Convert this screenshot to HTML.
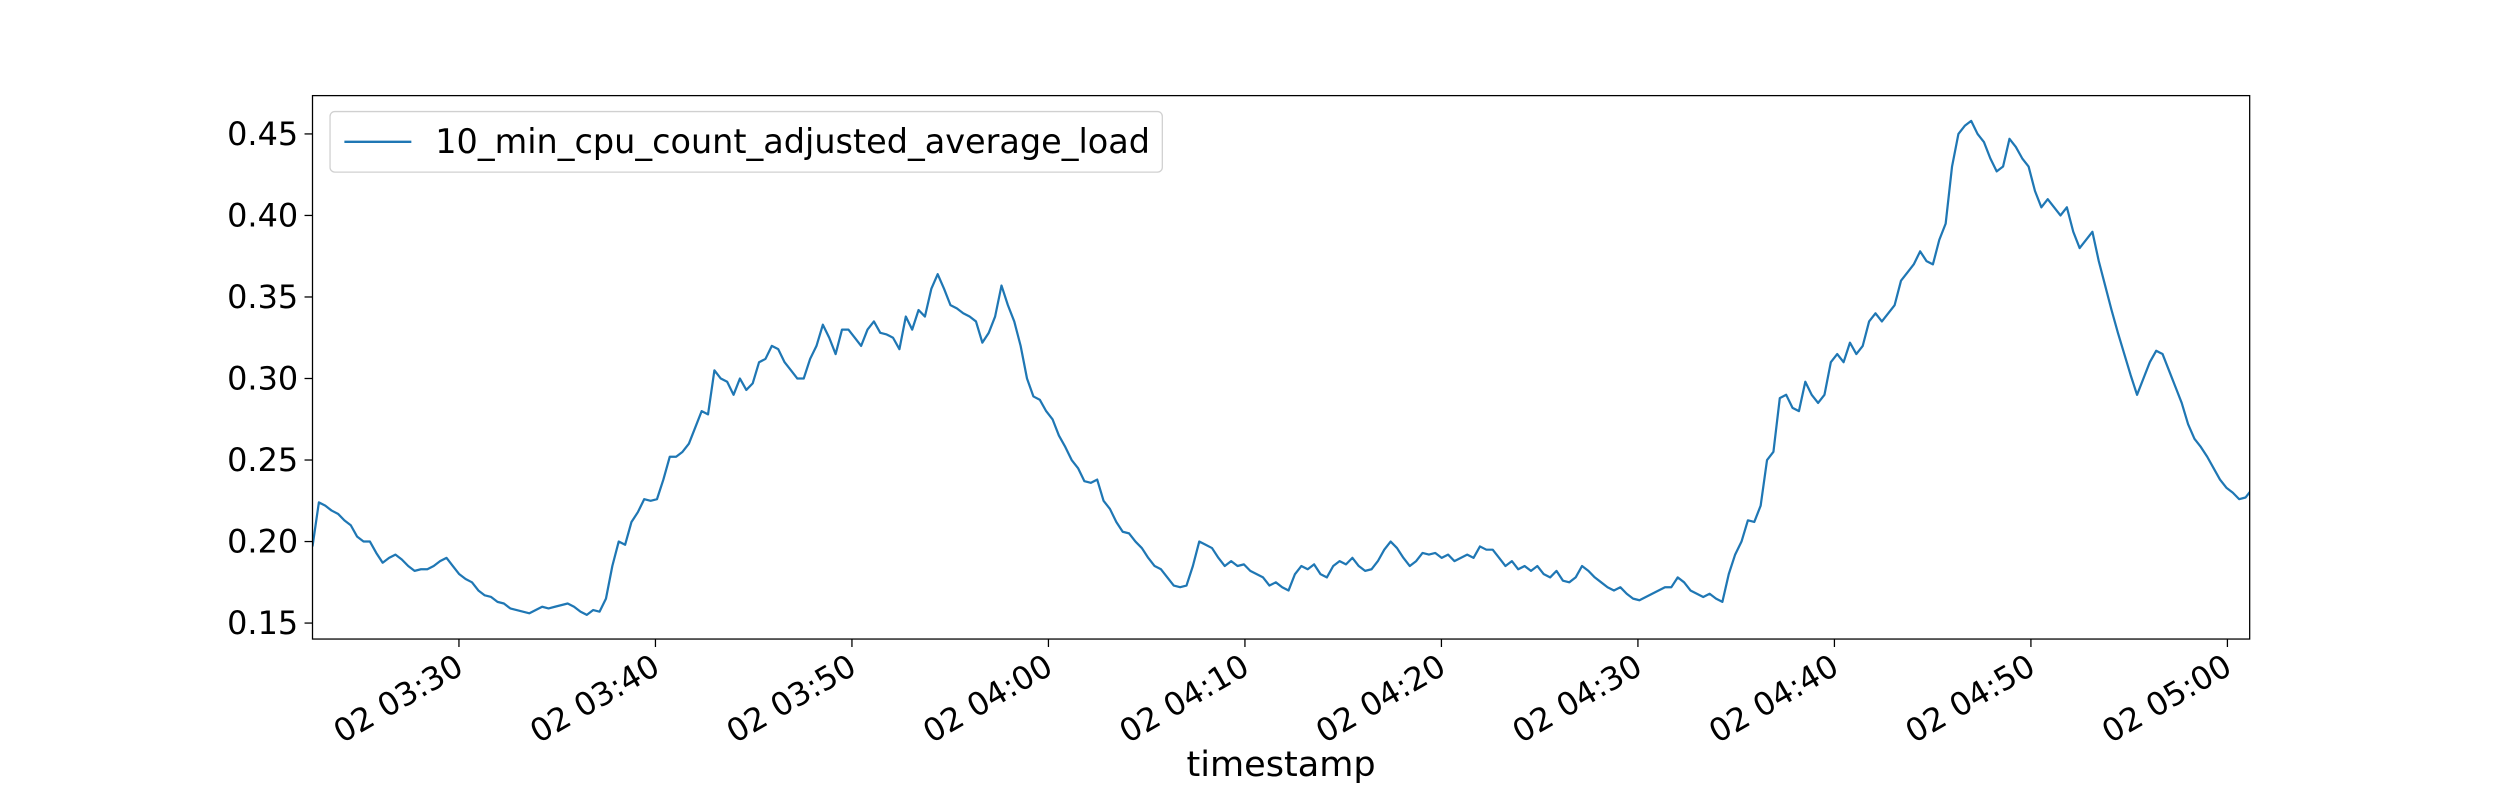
<!DOCTYPE html>
<html><head><meta charset="utf-8"><style>
html,body{margin:0;padding:0;background:#fff;}
svg{display:block;font-family:"DejaVu Sans","Liberation Sans",sans-serif;}
</style></head><body>
<svg id="chart" width="2500" height="800" viewBox="0 0 1568 502" preserveAspectRatio="none" xmlns="http://www.w3.org/2000/svg">
<rect x="0" y="0" width="1568" height="502" fill="#fff"/>
<g id="grid"></g>
<g id="series"></g>
<g id="axes"></g>
</svg>
<script>
// Data (regular samples, 10-min cpu-count-adjusted average load)
const startTimeSec = 3*3600 + 22*60 + 32.8; // 03:22:32.8
const stepSec = 19.48;
const loadValues = [
0.197,0.224,0.222,0.219,0.217,0.213,0.21,0.203,0.2,0.2,0.193,0.187,0.19,0.192,0.189,0.185,0.182,0.183,0.183,0.185,0.188,0.19,0.185,0.18,0.177,0.175,0.17,0.167,0.166,0.163,0.162,0.159,0.158,0.157,0.156,0.158,0.16,0.159,0.16,0.161,0.162,0.16,0.157,0.155,0.158,0.157,0.165,
0.185,0.2,0.198,0.212,0.218,0.226,0.225,0.226,0.238,0.252,0.252,0.255,0.26,0.27,0.28,0.278,0.305,
0.3,0.298,0.29,0.3,0.293,0.297,0.31,0.312,0.32,0.318,0.31,0.305,0.3,0.3,0.312,0.32,0.333,0.325,0.315,0.33,0.33,0.325,0.32,0.33,0.335,0.328,0.327,0.325,0.318,0.338,0.33,0.342,0.338,
0.355,0.364,0.355,0.345,0.343,0.34,0.338,0.335,0.322,0.328,0.338,0.357,
0.345,0.335,0.32,0.3,0.289,0.287,0.28,0.275,0.265,0.258,0.25,0.245,0.237,0.236,0.238,0.225,0.22,0.212,0.206,0.205,0.2,0.196,0.19,0.185,0.183,0.178,0.173,0.172,0.173,0.185,0.2,0.198,0.196,0.19,0.185,0.188,0.185,0.186,0.182,0.18,0.178,0.173,0.175,0.172,0.17,0.18,0.185,0.183,0.186,0.18,0.178,0.185,0.188,0.186,0.19,0.185,0.182,0.183,0.188,0.195,0.2,0.196,0.19,0.185,0.188,0.193,0.192,0.193,0.19,0.192,0.188,0.19,0.192,0.19,0.197,0.195,0.195,0.19,0.185,0.188,0.183,0.185,0.182,0.185,0.18,0.178,0.182,0.176,0.175,0.178,0.185,0.182,0.178,0.175,0.172,0.17,0.172,0.168,0.165,0.164,0.166,0.168,0.17,0.172,0.172,0.178,0.175,0.17,0.168,0.166,0.168,0.165,
0.163,0.18,0.192,0.2,0.213,0.212,0.222,
0.25,0.255,0.288,0.29,0.282,0.28,0.298,0.29,0.285,0.29,0.31,0.315,0.31,0.322,0.315,0.32,0.335,0.34,0.335,0.34,0.345,0.36,0.365,0.37,0.378,0.372,0.37,0.385,0.395,0.43,0.45,0.455,0.458,0.45,0.445,0.435,0.427,0.43,0.447,0.442,0.435,0.43,0.415,0.405,0.41,0.405,0.4,0.405,0.39,0.38,0.385,
0.39,0.372,0.357,0.342,0.328,0.315,0.302,0.29,0.3,0.31,0.317,0.315,0.305,0.295,0.285,0.272,0.263,0.258,0.252,0.245,0.238,0.233,0.23,0.226,0.227,0.232,0.235
];
const yTicks = [0.15,0.20,0.25,0.30,0.35,0.40,0.45];
const yTickLabels = ["0.15","0.20","0.25","0.30","0.35","0.40","0.45"];
const xTickMinutes = [210,220,230,240,250,260,270,280,290,300]; // minutes since 00:00
const xTickLabels = ["02 03:30","02 03:40","02 03:50","02 04:00","02 04:10","02 04:20","02 04:30","02 04:40","02 04:50","02 05:00"];
const seriesName = "10_min_cpu_count_adjusted_average_load";

const L=196,R=1411,T=60,B=401;
const xMin=3*3600+22*60+32.8, xMax=5*3600+1*60+8;
const yMin=0.1402, yMax=0.4735;
function sx(sec){return L+(sec-xMin)/(xMax-xMin)*(R-L);}
function sy(v){return B-(v-yMin)/(yMax-yMin)*(B-T);}
const NS="http://www.w3.org/2000/svg";
function mk(tag,attrs,parent){const e=document.createElementNS(NS,tag);for(const k in attrs)e.setAttribute(k,attrs[k]);parent.appendChild(e);return e;}
const svg=document.getElementById('chart');
const ser=document.getElementById('series'), ax=document.getElementById('axes');

const defs=mk('defs',{},svg);
const cp=mk('clipPath',{id:'clip'},defs);
mk('rect',{x:L,y:T,width:R-L,height:B-T},cp);

let d='';
loadValues.forEach((v,i)=>{const x=sx(startTimeSec+i*stepSec),y=sy(v);d+=(i?'L':'M')+x.toFixed(2)+','+y.toFixed(2);});
const line=mk('path',{d:d,fill:'none',stroke:'#1f77b4','stroke-width':1.4,'stroke-linejoin':'round','clip-path':'url(#clip)'},ser);



const frame=mk('rect',{x:L,y:T,width:R-L,height:B-T,fill:'none',stroke:'#000','stroke-width':0.8},ax);



yTicks.forEach((v,i)=>{
  const y=sy(v);
  const tk=mk('line',{x1:L-5,x2:L,y1:y,y2:y,stroke:'#000','stroke-width':0.8},ax);
  
  
  const t=mk('text',{x:L-9,y:y+7,'text-anchor':'end','font-size':20,fill:'#000'},ax);
  t.textContent=yTickLabels[i];
  
  
});
xTickMinutes.forEach((m,i)=>{
  const x=sx(m*60);
  const tk=mk('line',{x1:x,x2:x,y1:B,y2:B+5,stroke:'#000','stroke-width':0.8},ax);
  
  
  const t=mk('text',{x:x+4,y:B+21,'text-anchor':'end','font-size':20,fill:'#000',transform:'rotate(-30 '+(x+4)+' '+(B+21)+')'},ax);
  t.textContent=xTickLabels[i];
  
  
});
const xl=mk('text',{x:(L+R)/2,y:487,'text-anchor':'middle','font-size':22,fill:'#000'},ax);
xl.textContent='timestamp';



const lg=mk('g',{},ax);


mk('rect',{x:207,y:70,width:522,height:38,rx:3,fill:'#fff','fill-opacity':0.8,stroke:'#d0d0d0','stroke-width':0.8},lg);
const ll=mk('line',{x1:216,x2:258,y1:89,y2:89,stroke:'#1f77b4','stroke-width':1.5},lg);


const lt=mk('text',{x:273,y:96,'font-size':21,fill:'#000'},lg);
lt.textContent=seriesName;


</script>
</body></html>
